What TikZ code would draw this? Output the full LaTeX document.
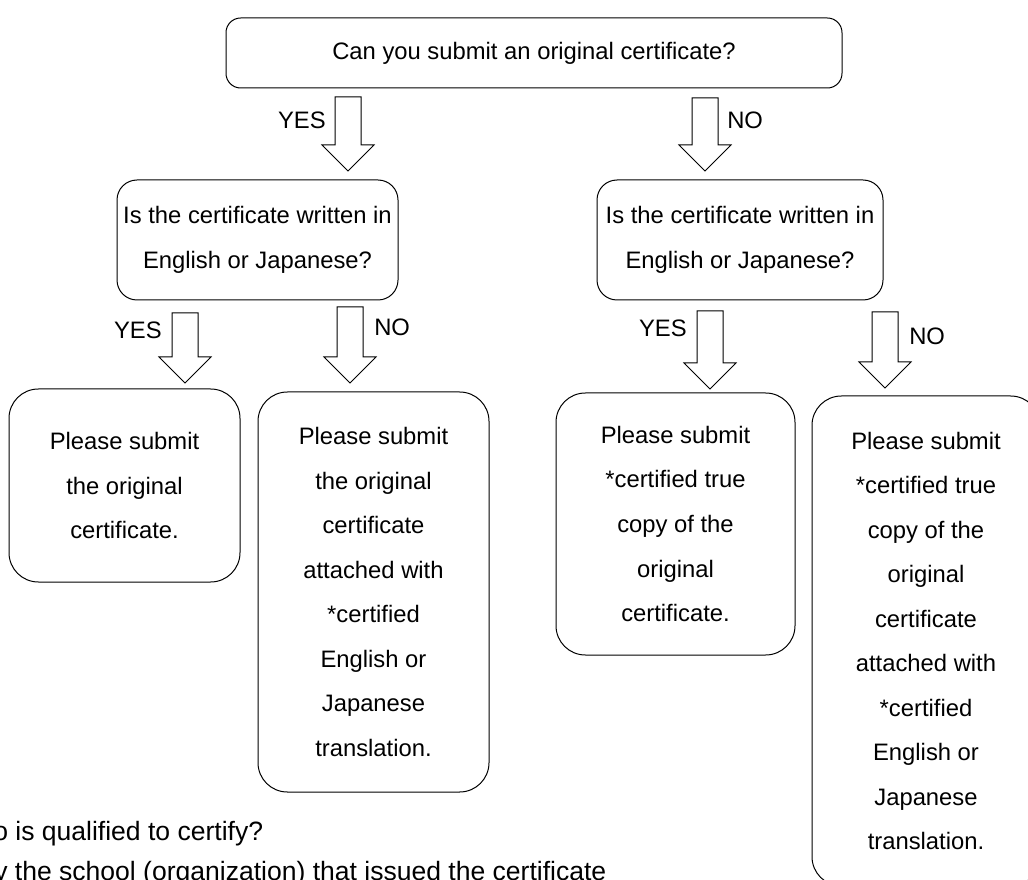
\documentclass[tikz,border=0pt]{standalone}
\usepackage{fontspec}
\setmainfont{Liberation Sans}

\tikzset{
  box/.style={draw, line width=0.75pt, align=center, inner sep=0pt,
    font=\fontsize{17.85pt}{33.4pt}\selectfont},
  lbl/.style={inner sep=0pt, font=\fontsize{17.85pt}{20pt}\selectfont},
  note/.style={inner sep=0pt, anchor=base west, font=\fontsize{19.9pt}{22pt}\selectfont},
  blockline/.style={draw, fill=white, line width=0.75pt, line join=miter},
  pics/blockdown/.style={code={
    \draw[blockline] (-13,0) -- (13,0) -- (13,{#1-26}) -- (26,{#1-26})
      -- (0,#1) -- (-26,{#1-26}) -- (-13,{#1-26}) -- cycle;
  }}
}

\begin{document}
\begin{tikzpicture}[x=0.75pt, y=-0.75pt]
  \useasboundingbox (0,0) rectangle (1028,880);

  % questions
  \node[box, rounded corners=11pt, minimum width=462pt, minimum height=52.5pt]
    (canorig) at (534,53) {Can you submit an original certificate?};
  \node[box, rounded corners=15pt, minimum width=210.75pt, minimum height=90pt]
    (langorig) at (257.5,240) {Is the certificate written in\\English or Japanese?};
  \node[box, rounded corners=15pt, minimum width=214.5pt, minimum height=90pt]
    (langcopy) at (740,240) {Is the certificate written in\\English or Japanese?};

  % answers
  \node[box, rounded corners=22pt, minimum width=173.25pt, minimum height=144.75pt]
    (subminal) at (124.5,485.5) {Please submit\\the original\\certificate.};
  \node[box, rounded corners=22pt, minimum width=173.25pt, minimum height=300pt]
    (subtrans) at (373.5,592) {Please submit\\the original\\certificate\\attached with\\*certified\\English or\\Japanese\\translation.};
  \node[box, rounded corners=22pt, minimum width=179.25pt, minimum height=196.5pt]
    (subcopy) at (675.5,524) {Please submit\\*certified true\\copy of the\\original\\certificate.};
  \node[box, rounded corners=22pt, minimum width=171pt, minimum height=367.5pt]
    (subcopytrans) at (926,641) {Please submit\\*certified true\\copy of the\\original\\certificate\\attached with\\*certified\\English or\\Japanese\\translation.};

  % block arrows
  \pic at (348,97) {blockdown=74};
  \pic at (705,98) {blockdown=73};
  \pic at (185,313) {blockdown=70};
  \pic at (350,307) {blockdown=76};
  \pic at (710,311) {blockdown=78};
  \pic at (885,312) {blockdown=76};

  % yes / no
  \node[lbl, anchor=east] (yestop) at (326,120) {YES};
  \node[lbl, anchor=west] (notop) at (727,120) {NO};
  \node[lbl, anchor=east] (yesleft) at (162,330) {YES};
  \node[lbl, anchor=west] (noleft) at (374,327) {NO};
  \node[lbl, anchor=east] (yesright) at (687,328) {YES};
  \node[lbl, anchor=west] (noright) at (909,336) {NO};

  % note at the foot
  \node[note] (whonote) at (-7,840) {o is qualified to certify?};
  \node[note] (bynote) at (-6,880) {y the school (organization) that issued the certificate};
\end{tikzpicture}
\end{document}
